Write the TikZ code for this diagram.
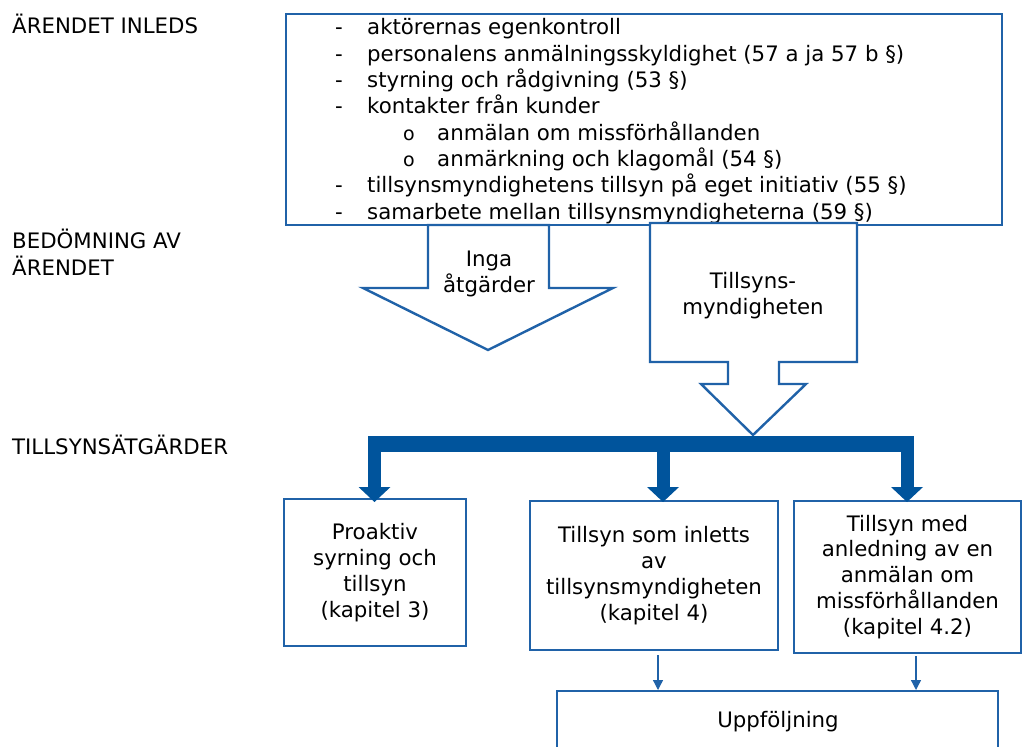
\documentclass[tikz,border=0pt]{standalone}
\usepackage{fontspec}
\setmainfont{DejaVu Sans}
\usetikzlibrary{arrows.meta}
\definecolor{bx}{HTML}{2062A8}
\definecolor{barc}{HTML}{00549C}
\begin{document}
\begin{tikzpicture}[x=1pt,y=-1pt,
  font=\fontsize{21.3}{25.9}\selectfont,
  box/.style={draw=bx, line width=2.4pt, fill=white, rectangle, inner sep=0pt, align=center},
  shapeline/.style={draw=bx, line width=2.4pt, fill=white, line join=miter},
  lst/.style={anchor=base west, inner sep=0pt},
  txt/.style={inner sep=0pt, align=center},
  thinarrow/.style={draw=bx, line width=1.3pt, -{Triangle[length=10pt,width=10pt]}}]
\clip (0,0) rectangle (1024,746);
\fill[white] (0,0) rectangle (1024,746);
% left labels
\node[lst] (lab1) at (12,34) {ÄRENDET INLEDS};
\node[lst] (lab2) at (12,248) {BEDÖMNING AV};
\node[lst] (lab3) at (12,275) {ÄRENDET};
\node[lst] (lab4) at (12,454) {TILLSYNSÄTGÄRDER};
% top box
\node[box, minimum width=716, minimum height=211] (tb) at (644,119.5) {};
\foreach \i/\t in {0/aktörernas egenkontroll,
                   1/personalens anmälningsskyldighet (57 a ja 57 b §),
                   2/styrning och rådgivning (53 §),
                   3/kontakter från kunder,
                   6/tillsynsmyndighetens tillsyn på eget initiativ (55 §),
                   7/samarbete mellan tillsynsmyndigheterna (59 §)}{
  \node[lst] (d\i) at (335,{35+26.3*\i}) {-};
  \node[lst] (l\i) at (367,{35+26.3*\i}) {\t};
}
\foreach \i/\t in {4/anmälan om missförhållanden, 5/anmärkning och klagomål (54 §)}{
  \node[lst] (d\i) at (403,{35+26.3*\i}) {\fontsize{19}{20}\selectfont o};
  \node[lst] (l\i) at (437,{35+26.3*\i}) {\t};
}
% Inga atgarder arrow
\draw[shapeline] (428,225) -- (428,288) -- (363,288) -- (488,350) -- (613,288) -- (549,288) -- (549,225) -- cycle;
\node[txt] (inga) at (489,274) {Inga\\åtgärder};
% Tillsynsmyndigheten callout
\draw[shapeline] (650,223) -- (857,223) -- (857,362) -- (779,362) -- (779,384) -- (806,384) -- (753,435)
  -- (701,384) -- (728,384) -- (728,362) -- (650,362) -- cycle;
\node[txt] (tm) at (753,296) {Tillsyns-\\myndigheten};
% boxes
\node[box, minimum width=182, minimum height=147] (b1) at (375,572.5) {Proaktiv\\syrning och\\tillsyn\\(kapitel 3)};
\node[box, minimum width=248, minimum height=149] (b2) at (654,575.5) {Tillsyn som inletts\\av\\tillsynsmyndigheten\\(kapitel 4)};
\node[box, minimum width=227, minimum height=152] (b3) at (907.5,577) {Tillsyn med\\anledning av en\\anmälan om\\missförhållanden\\(kapitel 4.2)};
\node[box, minimum width=441, minimum height=120, anchor=north] (up) at (777.5,690) {};
\node[txt] (upt) at (778,722) {Uppföljning};
% thick distribution bar
\coordinate (tip) at (753,436);
\fill[barc] (368,436) rectangle (914,452);
\foreach \x/\n in {374.5/b1, 663/b2, 907/b3}{
  \fill[barc] ({\x-6.5},450) rectangle ({\x+6.5},488);
  \fill[barc] ({\x-16},487) -- ({\x+16},487) -- (\x,502) -- cycle;
}
% thin arrows
\draw[thinarrow] ([xshift=4pt,yshift=-4pt]b2.south) -- ([xshift=4pt]b2.south |- up.north);
\draw[thinarrow] ([xshift=8.5pt,yshift=-2pt]b3.south) -- ([xshift=8.5pt]b3.south |- up.north);
\end{tikzpicture}
\end{document}
